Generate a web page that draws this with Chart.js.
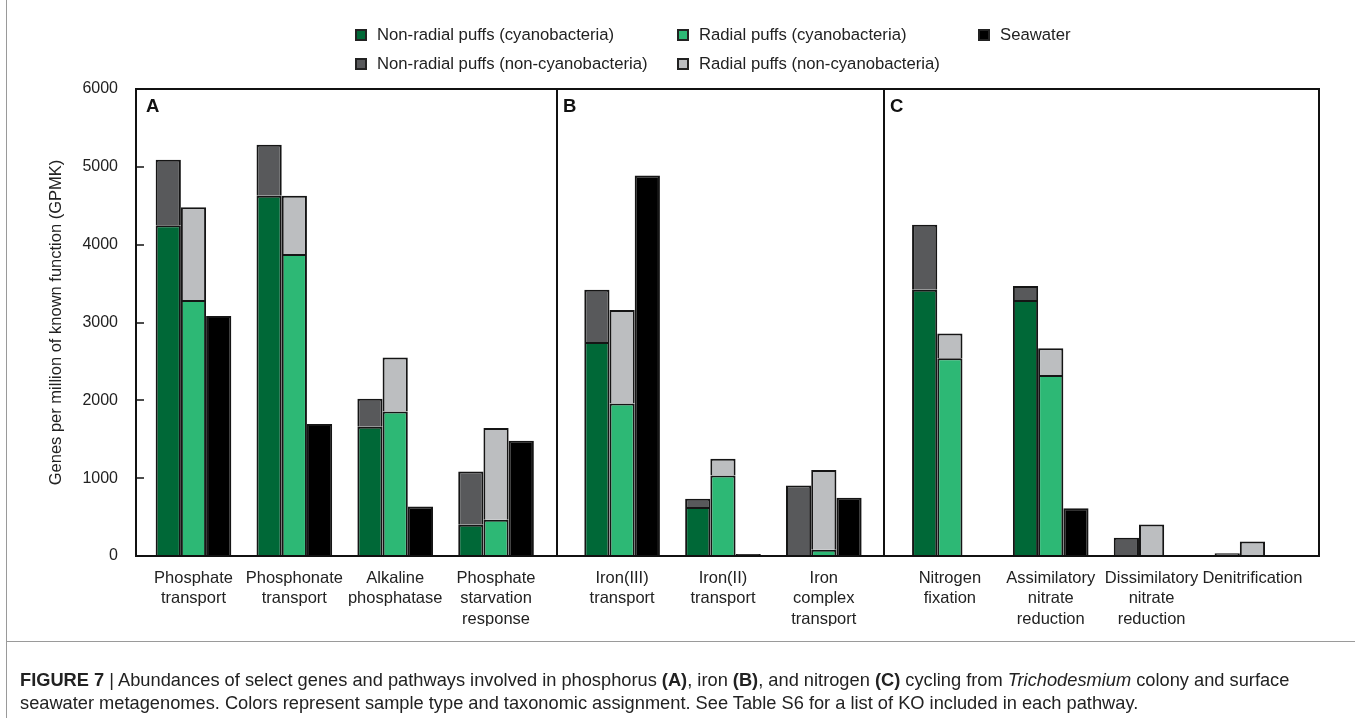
<!DOCTYPE html>
<html>
<head>
<meta charset="utf-8">
<title>Gene abundances by pathway</title>
<script src="https://cdn.jsdelivr.net/npm/chart.js@4/dist/chart.umd.min.js"></script>
<style>
  html, body { margin: 0; padding: 0; background: #fff; }
  body { width: 1355px; height: 718px; position: relative; overflow: hidden;
         font-family: "Liberation Sans", Arial, Helvetica, sans-serif; color: #222; }
  #chartBox { position: absolute; left: 0; top: 0; width: 1355px; height: 718px; }
  #legend { position: absolute; left: 0; top: 0; width: 1355px; height: 80px; z-index: 2; }
  .item { position: absolute; font-size: 16.7px; line-height: 20px; white-space: nowrap; }
  .swatch { position: absolute; left: 0; top: 4px; width: 8px; height: 8px; border: 2px solid #222; }
  .label { position: absolute; left: 22px; top: 0; }
  #caption { position: absolute; left: 20px; top: 668px; font-size: 18.25px; line-height: 23px;
             white-space: nowrap; z-index: 2; color: #222; }
  #frameLeft { position: absolute; left: 6px; top: 0; width: 1px; height: 718px; background: #9a9a9a; }
  #frameTop { position: absolute; left: 6px; top: 641px; width: 1349px; height: 1px; background: #9a9a9a; }
</style>
</head>
<body>
<div id="frameLeft"></div>
<div id="frameTop"></div>
<div id="chartBox"><canvas id="chart"></canvas></div>
<div id="legend"></div>
<div id="caption"><b>FIGURE 7</b> | Abundances of select genes and pathways involved in phosphorus <b>(A)</b>, iron <b>(B)</b>, and nitrogen <b>(C)</b> cycling from <i>Trichodesmium</i> colony and surface<br>seawater metagenomes. Colors represent sample type and taxonomic assignment. See Table S6 for a list of KO included in each pathway.</div>
<script>
// Pathway categories (multi-line tick labels) and the panel each belongs to
const categories = [
  ["Phosphate", "transport"],
  ["Phosphonate", "transport"],
  ["Alkaline", "phosphatase"],
  ["Phosphate", "starvation", "response"],
  ["Iron(III)", "transport"],
  ["Iron(II)", "transport"],
  ["Iron", "complex", "transport"],
  ["Nitrogen", "fixation"],
  ["Assimilatory", "nitrate", "reduction"],
  ["Dissimilatory", "nitrate", "reduction"],
  ["Denitrification"]
];
const panelOf = [0, 0, 0, 0, 1, 1, 1, 2, 2, 2, 2];
const panelLetters = ["A", "B", "C"];

// Abundances in GPMK
const nonRadialCyano = [4250, 4630, 1660, 400, 2750, 630, 10, 3420, 3290, 0, 0];
const nonRadialOther = [840, 655, 360, 685, 670, 105, 895, 835, 180, 235, 35];
const radialCyano    = [3290, 3880, 1855, 465, 1960, 1035, 80, 2540, 2325, 0, 0];
const radialOther    = [1190, 750, 695, 1180, 1200, 215, 1025, 320, 345, 405, 185];
const seawater       = [3085, 1695, 635, 1480, 4890, 25, 750, 0, 615, 0, 0];

const yTicks = [0, 1000, 2000, 3000, 4000, 5000, 6000];

const seriesNames = [
  "Non-radial puffs (cyanobacteria)",
  "Non-radial puffs (non-cyanobacteria)",
  "Radial puffs (cyanobacteria)",
  "Radial puffs (non-cyanobacteria)",
  "Seawater"
];
const seriesValues = [nonRadialCyano, nonRadialOther, radialCyano, radialOther, seawater];
const seriesStacks = ["nonradial", "nonradial", "radial", "radial", "seawater"];
const seriesColors = ["#006837", "#58595b", "#2db875", "#bcbec0", "#000000"];

// Layout of the shared x axis: categories one unit apart, extra gap between panels
const PANEL_GAP = 0.25;
const xPos = categories.map((c, i) => i + panelOf[i] * PANEL_GAP);
const X_MIN = xPos[0] - 0.57;
const X_MAX = xPos[xPos.length - 1] + 0.66;
const dividers = [];
for (let i = 0; i < xPos.length - 1; i++) {
  if (panelOf[i] !== panelOf[i + 1]) dividers.push(xPos[i] + 0.6);
}

const FONT = '"Liberation Sans", Arial, Helvetica, sans-serif';
const INK = '#222';

// HTML legend: two rows, three columns
const legendCols = [355, 677, 978];
const legendRows = [25, 54];
const legendSlots = [[0, 0], [0, 1], [1, 0], [1, 1], [2, 0]];
const legendEl = document.getElementById('legend');
seriesNames.forEach((name, i) => {
  const [c, r] = legendSlots[i];
  const item = document.createElement('div');
  item.className = 'item';
  item.style.left = legendCols[c] + 'px';
  item.style.top = legendRows[r] + 'px';
  const sw = document.createElement('span');
  sw.className = 'swatch';
  sw.style.background = seriesColors[i];
  const tx = document.createElement('span');
  tx.className = 'label';
  tx.textContent = name;
  item.appendChild(sw);
  item.appendChild(tx);
  legendEl.appendChild(item);
});

// Panel frame, dividers, inward y ticks and panel letters
const panelFrame = {
  id: 'panelFrame',
  afterDatasetsDraw(chart) {
    const { ctx, chartArea: a, scales: { x, y } } = chart;
    ctx.save();
    ctx.strokeStyle = '#111';
    ctx.lineWidth = 2;
    ctx.strokeRect(a.left, a.top, a.right - a.left, a.bottom - a.top);
    const edges = [a.left];
    dividers.forEach(v => {
      const px = Math.round(x.getPixelForValue(v));
      edges.push(px);
      ctx.beginPath();
      ctx.moveTo(px, a.top);
      ctx.lineTo(px, a.bottom);
      ctx.stroke();
    });
    ctx.lineWidth = 1.5;
    yTicks.forEach(t => {
      const py = Math.round(y.getPixelForValue(t));
      ctx.beginPath();
      ctx.moveTo(a.left, py);
      ctx.lineTo(a.left + 8, py);
      ctx.stroke();
    });
    ctx.fillStyle = '#111';
    ctx.font = 'bold 18.5px ' + FONT;
    ctx.textBaseline = 'top';
    ctx.textAlign = 'left';
    panelLetters.forEach((L, i) => {
      ctx.fillText(L, edges[i] + (i === 0 ? 10 : 6), a.top + 9);
    });
    ctx.restore();
  }
};

const datasets = seriesNames.map((name, s) => ({
  label: name,
  data: seriesValues[s].map((v, i) => ({ x: xPos[i], y: v })),
  stack: seriesStacks[s],
  backgroundColor: seriesColors[s],
  borderColor: '#151515',
  borderWidth: { top: 2, left: 2, right: 2, bottom: 0 },
  borderSkipped: 'start',
  categoryPercentage: 0.75,
  barPercentage: 1.0
}));

new Chart(document.getElementById('chart'), {
  type: 'bar',
  data: { datasets },
  plugins: [panelFrame],
  options: {
    responsive: true,
    maintainAspectRatio: false,
    animation: false,
    layout: { padding: { top: 89, left: 0, right: 36, bottom: 92 } },
    plugins: { legend: { display: false }, tooltip: { enabled: false } },
    scales: {
      x: {
        type: 'linear',
        min: X_MIN,
        max: X_MAX,
        offset: false,
        grid: { display: false, drawTicks: false, offset: false },
        border: { display: false },
        afterBuildTicks(scale) { scale.ticks = xPos.map(v => ({ value: v })); },
        afterFit(scale) { scale.height = 70; },
        ticks: {
          autoSkip: false,
          maxRotation: 0,
          minRotation: 0,
          padding: 12,
          color: INK,
          font: { family: FONT, size: 16.5, lineHeight: 1.24 },
          callback: (value, index) => categories[index]
        }
      },
      y: {
        stacked: true,
        min: 0,
        max: 6000,
        grid: { display: true, drawOnChartArea: false, drawTicks: false, color: 'rgba(0,0,0,0)' },
        border: { display: false },
        afterBuildTicks(scale) { scale.ticks = yTicks.map(v => ({ value: v })); },
        afterFit(scale) { scale.width = 136; },
        ticks: {
          padding: 18,
          color: INK,
          font: { family: FONT, size: 16 },
          callback: (value) => String(value)
        },
        title: {
          display: true,
          text: 'Genes per million of known function (GPMK)',
          color: INK,
          font: { family: FONT, size: 16.5 },
          padding: { top: 47, bottom: 0 }
        }
      }
    }
  }
});
</script>
</body>
</html>
